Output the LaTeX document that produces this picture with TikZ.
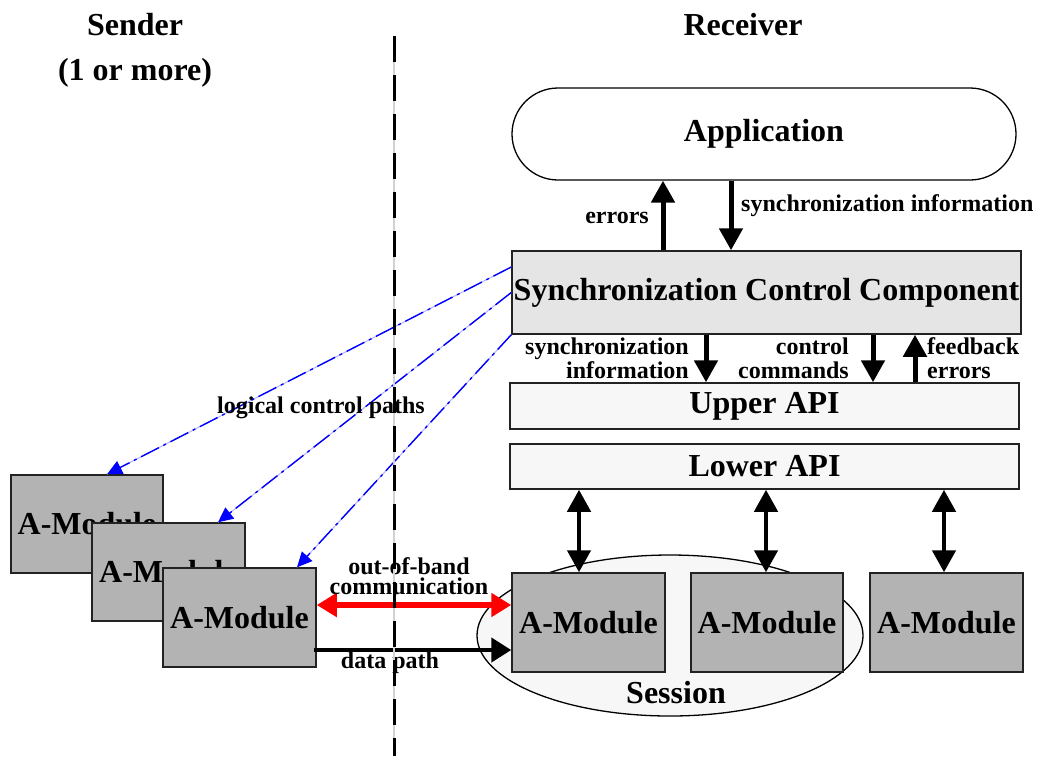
\documentclass[tikz,border=0pt]{standalone}
\usepackage{fontspec}
\setmainfont{Liberation Serif}
\usetikzlibrary{arrows.meta}
\definecolor{modgray}{HTML}{B3B3B3}
\definecolor{sccfill}{HTML}{E5E5E5}
\definecolor{apifill}{HTML}{F7F7F7}
\definecolor{edge}{HTML}{222222}
\begin{document}
\begin{tikzpicture}[x=1pt,y=-1pt,
  big/.style={font=\fontsize{32}{33}\selectfont\bfseries},
  small/.style={font=\fontsize{24}{24}\selectfont\bfseries, inner sep=0pt},
  twoline/.style={font=\fontsize{24}{24}\selectfont\bfseries},
  module/.style={draw=edge, line width=1.5pt, fill=modgray, minimum width=153pt,
    minimum height=99pt, inner sep=0pt, big},
  layer/.style={draw=edge, line width=1.5pt, fill=apifill, minimum width=509pt,
    inner sep=0pt, big},
  fat/.style={line width=5pt, -{Triangle[length=22pt,width=23pt]}},
  fatboth/.style={line width=4.5pt, {Triangle[length=22pt,width=23pt]}-{Triangle[length=22pt,width=23pt]}},
  ctrlbase/.style={blue!30, line width=1pt},
  ctrl/.style={blue, line width=1.4pt, dash pattern=on 20pt off 5pt on 3pt off 5pt,
    -{Triangle[length=15pt,width=14pt]}}]
\useasboundingbox (0,0) rectangle (1040,756);

% titles
\node[big] (sender) at (135,25) {Sender};
\node[big] (count) at (135,73) {(1 or more)};
\node[big] (receiver) at (743,25) {Receiver};

% receiver stack
\node[draw=black, line width=1.3pt, fill=white, rounded corners=46pt,
  minimum width=504pt, minimum height=92pt, inner sep=0pt, big] (app) at (764,134) {Application};
\node[draw=edge, line width=1.5pt, fill=sccfill, minimum width=509pt, minimum height=83pt,
  inner sep=0pt, big] (scc) at (766.5,292.5)
  {Synchronization Control Component};
\node[layer, minimum height=46pt] (upper) at (764.5,406) {Upper API};
\node[layer, minimum height=45pt] (lower) at (764.5,466.5) {Lower API};

% session with its modules
\draw[line width=1.3pt, fill=apifill] (670,635.5) ellipse [x radius=193, y radius=80.5];
\node[big] (sessionlabel) at (676,693) {Session};
\node[module] (sm1) at (588.5,622.5) {A-Module};
\node[module, minimum width=152pt] (sm2) at (767,622.5) {A-Module};
\node[module] (sm3) at (946.5,622.5) {A-Module};

% sender modules, stacked
\node[module, minimum width=152pt, minimum height=98pt] (sa) at (87,524) {A-Module};
\node[module, minimum height=98pt] (sb) at (168.5,572) {A-Module};
\node[module] (sc) at (239.5,617.5) {A-Module};

% x positions of the vertical connectors, y positions of the horizontal ones
\coordinate (xerr) at (663,0);
\coordinate (xsyn) at (731,0);
\coordinate (xsi) at (706,0);
\coordinate (xcc) at (873,0);
\coordinate (xfe) at (915,0);
\coordinate (xm1) at (579,0);
\coordinate (xm2) at (766,0);
\coordinate (xm3) at (944,0);
\coordinate (yoob) at (0,605);
\coordinate (ydata) at (0,650);

% application <-> synchronization control
\draw[fat] (scc.north -| xerr) -- (app.south -| xerr);
\draw[fat] (app.south -| xsyn) -- (scc.north -| xsyn);
\node[small, anchor=east] (errl) at (649,218) {errors};
\node[small, anchor=west] (synl) at (741,206) {synchronization information};

% synchronization control <-> upper API
\draw[fat] (scc.south -| xsi) -- (upper.north -| xsi);
\draw[fat] (scc.south -| xcc) -- (upper.north -| xcc);
\draw[fat] (upper.north -| xfe) -- (scc.south -| xfe);
\node[small, twoline, align=right, anchor=east] (sil) at (689,358) {synchronization\\information};
\node[small, twoline, align=right, anchor=east] (ccl) at (849,358) {control\\commands};
\node[small, twoline, align=left, anchor=west] (fel) at (927,358) {feedback\\errors};

% lower API <-> receiver modules
\draw[fatboth] (lower.south -| xm1) -- (sm1.north -| xm1);
\draw[fatboth] (lower.south -| xm2) -- (sm2.north -| xm2);
\draw[fatboth] (lower.south -| xm3) -- (sm3.north -| xm3);

% logical control paths
\coordinate (c1) at (0,267);
\coordinate (t1) at (107,0);
\coordinate (t2) at (218,0);
\coordinate (t3) at (297,0);
\draw[ctrlbase] (scc.west |- c1) -- (sa.north -| t1);
\draw[ctrlbase] (scc.west) -- (sb.north -| t2);
\draw[ctrlbase] (scc.south west) -- (sc.north -| t3);
\draw[ctrl] (scc.west |- c1) -- (sa.north -| t1);
\draw[ctrl] (scc.west) -- (sb.north -| t2);
\draw[ctrl] (scc.south west) -- (sc.north -| t3);
\node[small] (lcp) at (321,408) {logical control paths};

% sender <-> receiver
\draw[red, line width=5.5pt, {Triangle[length=20pt,width=23pt]}-{Triangle[length=20pt,width=23pt]}]
  (sc.east |- yoob) -- (sm1.west |- yoob);
\node[small, align=center, font=\fontsize{24}{20}\selectfont\bfseries] (oob) at (409,576) {out-of-band\\communication};
\draw[line width=4.5pt, -{Triangle[length=20pt,width=24pt]}]
  ([xshift=-3pt]sc.east |- ydata) -- (sm1.west |- ydata);
\node[small] (dpl) at (390,663) {data path};

% sender / receiver boundary
\coordinate (vtop) at (394,36);
\coordinate (vbot) at (394,756);
\draw[gray!35, line width=1.2pt] (vtop) -- (vbot);
\draw[line width=3pt, dash pattern=on 26pt off 13pt] (vtop) -- (vbot);
\end{tikzpicture}
\end{document}
